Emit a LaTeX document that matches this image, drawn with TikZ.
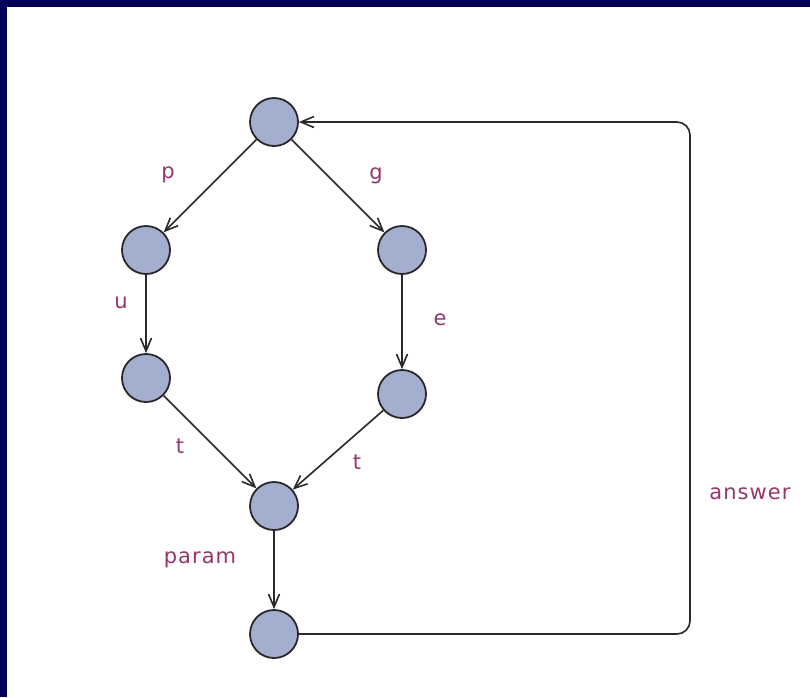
\documentclass[tikz,border=0pt]{standalone}
\usepackage{fontspec}
\setmainfont{DejaVu Sans}[LetterSpace=5]
\usetikzlibrary{arrows.meta}
\definecolor{navy}{RGB}{0,0,88}
\definecolor{nodefill}{RGB}{164,174,206}
\definecolor{nodeline}{RGB}{40,40,45}
\definecolor{lab}{RGB}{150,55,105}
\tikzset{
  state/.style={circle, draw=nodeline, fill=nodefill, line width=1.8pt, minimum size=48pt, inner sep=0pt},
  edge/.style={draw=nodeline, line width=1.6pt, -{Straight Barb[length=13pt,width=11pt,line width=1.6pt]}},
  lbl/.style={text=lab, font=\fontsize{21pt}{23pt}\selectfont, inner sep=0pt}
}
\begin{document}
\begin{tikzpicture}[x=1pt,y=-1pt]
\useasboundingbox (0,0) rectangle (810,697);
\fill[white] (0,0) rectangle (810,697);
\fill[navy] (0,0) rectangle (810,7);
\fill[navy] (0,0) rectangle (7,697);

\node[state] (top) at (274,122) {};
\node[state] (l1) at (146,250) {};
\node[state] (r1) at (402,250) {};
\node[state] (l2) at (146,378) {};
\node[state] (r2) at (402,394) {};
\node[state] (m) at (274,506) {};
\node[state] (b) at (274,634) {};
\coordinate (c1) at (690,634);
\coordinate (c2) at (690,122);

\draw[edge] (top) -- (l1);
\draw[edge] (top) -- (r1);
\draw[edge] (l1) -- (l2);
\draw[edge] (r1) -- (r2);
\draw[edge] (l2) -- (m);
\draw[edge] (r2) -- (m);
\draw[edge] (m) -- (b);
\draw[edge, rounded corners=13pt] (b.east) -- (c1) -- (c2) -- (top.east);

\node[lbl] (lp) at (168,175) {p};
\node[lbl] (lg) at (376,176) {g};
\node[lbl] (lu) at (121,303) {u};
\node[lbl] (le) at (440,320) {e};
\node[lbl] (lt1) at (180,446) {t};
\node[lbl] (lt2) at (357,462) {t};
\node[lbl] (lparam) at (200,560) {param};
\node[lbl] (lanswer) at (750,494) {answer};
\end{tikzpicture}
\end{document}
